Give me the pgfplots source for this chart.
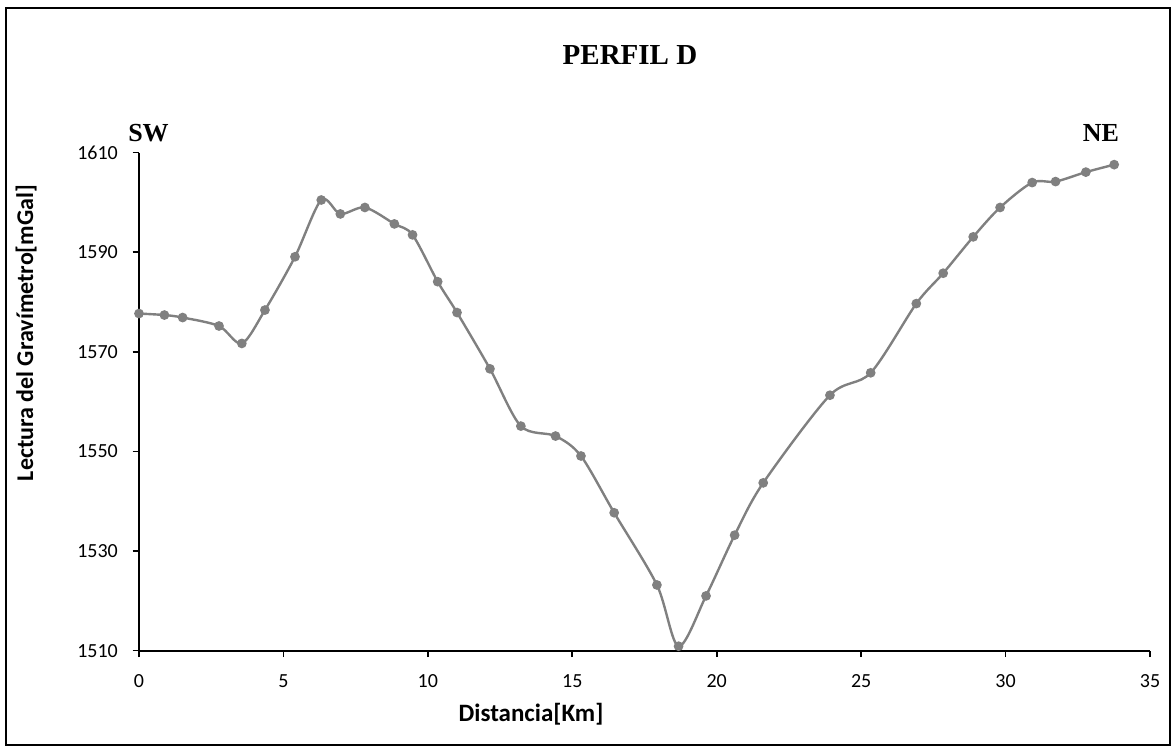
\documentclass[border=0pt]{standalone}
\usepackage{fontspec}
\setmainfont{Carlito}
\newfontfamily\titlefont{Liberation Serif}
\usepackage{pgfplots}
\pgfplotsset{compat=1.18}
\definecolor{linegray}{RGB}{128,128,128}
\begin{document}
\begin{tikzpicture}
\useasboundingbox (0,0) rectangle (586pt,374.5pt);
\draw[line width=0.8pt] (3pt,2pt) rectangle (585pt,370.5pt);
\begin{axis}[
  scale only axis, width=505.5pt, height=249pt,
  at={(69.5pt,49.15pt)}, anchor=south west,
  xmin=0, xmax=35, ymin=1510, ymax=1610,
  xtick={0,5,...,35}, ytick={1510,1530,...,1610},
  axis x line*=bottom, axis y line*=left,
  tick align=outside, major tick length=3.25pt,
  axis line style={line width=1pt, black},
  tick style={line width=0.8pt, black},
  /pgf/number format/assume math mode=true,
  /pgf/number format/1000 sep={},
  tick label style={font=\fontsize{10}{12}\selectfont},
  xticklabel shift=5pt, yticklabel shift=3.8pt,
  clip=false,
]
\addplot[color=linegray, line width=1.2pt, smooth, tension=0.5,
  mark=*, mark size=1.8pt, mark options={fill=linegray, draw=linegray, solid}]
coordinates {
(0,1577.7) (0.88,1577.4) (1.51,1576.9) (2.77,1575.2) (3.56,1571.7)
(4.36,1578.4) (5.40,1589.1) (6.31,1600.5) (6.97,1597.7) (7.82,1599.0)
(8.84,1595.7) (9.47,1593.5) (10.34,1584.1) (11.01,1577.9) (12.15,1566.6)
(13.22,1555.1) (14.42,1553.1) (15.30,1549.1) (16.45,1537.7) (17.93,1523.2)
(18.68,1510.9) (19.63,1521.0) (20.62,1533.2) (21.61,1543.7) (23.92,1561.3)
(25.33,1565.8) (26.91,1579.7) (27.84,1585.8) (28.88,1593.1) (29.81,1599.0)
(30.92,1604.0) (31.73,1604.2) (32.78,1606.1) (33.76,1607.6)
};
\end{axis}
\node[anchor=base, font=\titlefont\bfseries\fontsize{14.5}{16}\selectfont] at (315pt,342pt) {PERFIL D};
\node[anchor=base, font=\titlefont\bfseries\fontsize{13}{15}\selectfont] at (74.25pt,303.65pt) {SW};
\node[anchor=base, font=\titlefont\bfseries\fontsize{13}{15}\selectfont] at (550.5pt,303.65pt) {NE};
\node[anchor=base, rotate=90, font=\bfseries\fontsize{12}{14}\selectfont] at (16.5pt,208pt) {Lectura del Gravímetro[mGal]};
\node[anchor=base, font=\bfseries\fontsize{12.5}{14}\selectfont] at (265.5pt,13.5pt) {Distancia[Km]};
\end{tikzpicture}
\end{document}
